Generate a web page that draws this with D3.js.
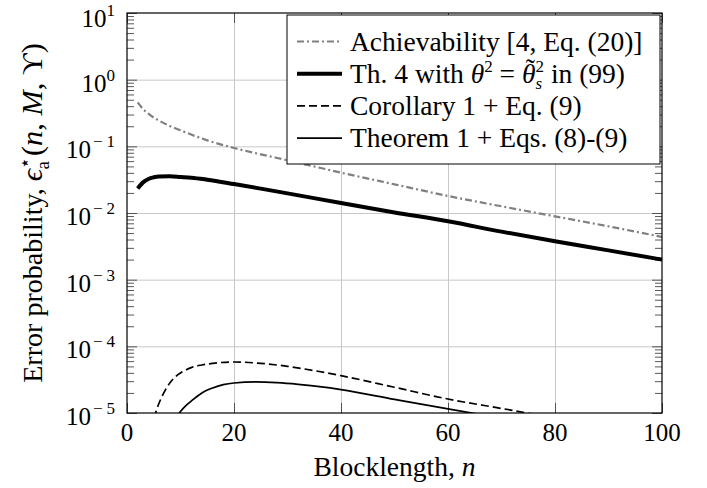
<!DOCTYPE html>
<html>
<head>
<meta charset="utf-8">
<script src="https://cdn.jsdelivr.net/npm/d3@7"></script>
<style>
  html, body { margin: 0; padding: 0; background: #fff; }
  svg { display: block; }
  text { font-family: "Liberation Serif", "Times New Roman", serif; fill: #000; }
</style>
</head>
<body>
<svg id="chart" width="707" height="488"></svg>
<script>
// Blocklength values and error probabilities for each bound
const achN    = [2, 3, 4, 5, 6, 8, 10, 12, 15, 20, 25, 30, 40, 50, 60, 70, 80, 90, 100];
const achVals = [0.457, 0.363, 0.309, 0.269, 0.243, 0.202, 0.174, 0.150, 0.123, 0.0944,
                 0.0759, 0.0617, 0.0403, 0.0269, 0.0180, 0.0126, 0.00891, 0.00631, 0.00437];

const th4N    = [2, 3, 4, 5, 6, 8, 10, 12, 15, 20, 25, 30, 40, 50, 60, 70, 80, 90, 100];
const th4Vals = [0.0234, 0.0288, 0.0324, 0.0343, 0.0353, 0.0355, 0.0347, 0.0339, 0.0316, 0.0272,
                 0.0232, 0.0197, 0.0141, 0.0102, 0.00750, 0.00525, 0.00376, 0.00275, 0.00200];

const corN    = [5, 6, 7, 8, 9, 10, 12, 14, 16, 20, 25, 30, 35, 40, 50, 60, 70, 76];
const corVals = [8.3e-6, 1.41e-5, 2.09e-5, 2.82e-5, 3.47e-5, 3.98e-5, 4.79e-5, 5.25e-5, 5.56e-5,
                 5.82e-5, 5.56e-5, 5.01e-5, 4.32e-5, 3.63e-5, 2.43e-5, 1.62e-5, 1.17e-5, 9.6e-6];

const thm1N    = [9, 10, 11, 12, 14, 16, 18, 20, 24, 28, 32, 36, 40, 50, 60, 66];
const thm1Vals = [7.9e-6, 1.05e-5, 1.29e-5, 1.51e-5, 2.0e-5, 2.37e-5, 2.66e-5, 2.82e-5, 2.92e-5,
                  2.85e-5, 2.69e-5, 2.48e-5, 2.24e-5, 1.60e-5, 1.15e-5, 9.5e-6];

const xTicks = [0, 20, 40, 60, 80, 100];
const yExponents = [1, 0, -1, -2, -3, -4, -5];

const svg = d3.select("#chart");
const pL = 127, pR = 662, pT = 13, pB = 413;

const x = d3.scaleLinear().domain([0, 100]).range([pL, pR]);
const y = d3.scaleLog().domain([1e-5, 10]).range([pB, pT]);

const yMajor = yExponents.map(e => Math.pow(10, e));
const yMinor = [];
for (let e = -5; e < 1; e++) for (let k = 2; k <= 9; k++) yMinor.push(k * Math.pow(10, e));

// grid
const grid = svg.append("g");
grid.append("g").attr("transform", `translate(0,${pB})`)
  .call(d3.axisBottom(x).tickValues(xTicks.slice(1, -1)).tickSize(-(pB - pT)).tickFormat(""))
  .call(g => g.select(".domain").remove())
  .call(g => g.selectAll("line").attr("stroke", "#c8c8c8").attr("stroke-width", 1));
grid.append("g").attr("transform", `translate(${pL},0)`)
  .call(d3.axisLeft(y).tickValues(yMajor.slice(1, -1)).tickSize(-(pR - pL)).tickFormat(""))
  .call(g => g.select(".domain").remove())
  .call(g => g.selectAll("line").attr("stroke", "#c8c8c8").attr("stroke-width", 1));

// inward tick marks on all four sides
function ticks(axis, tr) {
  svg.append("g").attr("transform", tr).call(axis)
    .call(g => g.select(".domain").remove())
    .call(g => g.selectAll("line").attr("stroke", "#444").attr("stroke-width", 0.9));
}
ticks(d3.axisBottom(x).tickValues(xTicks).tickSize(-10).tickFormat(""), `translate(0,${pB})`);
ticks(d3.axisTop(x).tickValues(xTicks).tickSize(-10).tickFormat(""), `translate(0,${pT})`);
ticks(d3.axisLeft(y).tickValues(yMajor).tickSize(-10).tickFormat(""), `translate(${pL},0)`);
ticks(d3.axisRight(y).tickValues(yMajor).tickSize(-10).tickFormat(""), `translate(${pR},0)`);
ticks(d3.axisLeft(y).tickValues(yMinor).tickSize(-7).tickFormat(""), `translate(${pL},0)`);
ticks(d3.axisRight(y).tickValues(yMinor).tickSize(-7).tickFormat(""), `translate(${pR},0)`);

// curves
svg.append("clipPath").attr("id", "plotClip")
  .append("rect").attr("x", pL).attr("y", pT).attr("width", pR - pL).attr("height", pB - pT);

const line = d3.line().x(d => x(d[0])).y(d => y(d[1])).curve(d3.curveMonotoneX);
const curves = svg.append("g").attr("clip-path", "url(#plotClip)");
const styles = {
  ach:  { color: "#808080", width: 2.2, dash: "7,3,2,3" },
  th4:  { color: "#000", width: 4, dash: null },
  cor:  { color: "#000", width: 1.7, dash: "8,4" },
  thm1: { color: "#000", width: 1.7, dash: null }
};
function drawCurve(ns, vals, st) {
  curves.append("path")
    .attr("d", line(ns.map((n, i) => [n, vals[i]])))
    .attr("fill", "none").attr("stroke", st.color).attr("stroke-width", st.width)
    .attr("stroke-dasharray", st.dash);
}
drawCurve(achN, achVals, styles.ach);
drawCurve(th4N, th4Vals, styles.th4);
drawCurve(corN, corVals, styles.cor);
drawCurve(thm1N, thm1Vals, styles.thm1);

// frame
svg.append("rect").attr("x", pL).attr("y", pT).attr("width", pR - pL).attr("height", pB - pT)
  .attr("fill", "none").attr("stroke", "#000").attr("stroke-width", 1.2);

// helpers for math-like text
function span(t, str, opts = {}) {
  const s = t.append("tspan").text(str);
  if (opts.italic) s.attr("font-style", "italic");
  if (opts.size) s.attr("font-size", opts.size);
  if (opts.dx) s.attr("dx", opts.dx);
  if (opts.dy) s.attr("dy", opts.dy);
  return s;
}

// tick labels
const tickFs = 25;
xTicks.forEach(t => {
  svg.append("text").attr("x", x(t)).attr("y", pB + 28).attr("text-anchor", "middle")
    .attr("font-size", tickFs).text(t);
});
yExponents.forEach(e => {
  const t = svg.append("text").attr("x", pL - 12)
    .attr("y", Math.max(y(Math.pow(10, e)) + 12, 27))
    .attr("text-anchor", "end").attr("font-size", tickFs);
  span(t, "10");
  if (e < 0) {
    span(t, "\u2212", { size: 17, dy: -11, dx: 2 });
    span(t, String(-e), { size: 17, dx: 4 });
  } else {
    span(t, String(e), { size: 17, dy: -11 });
  }
});

// axis titles
const fs = 27.5;
const xl = svg.append("text").attr("x", (pL + pR) / 2).attr("y", 476)
  .attr("text-anchor", "middle").attr("font-size", fs);
span(xl, "Blocklength, ");
span(xl, "n", { italic: true });

const yCenter = (pT + pB) / 2;
const yl = svg.append("text").attr("transform", `translate(42,${yCenter}) rotate(-90)`)
  .attr("text-anchor", "middle").attr("font-size", 25);
const mathFs = 27;
span(yl, "Error probability, ");
span(yl, "\u03F5", { italic: true, size: mathFs });
const star = span(yl, "\u22C6", { size: 17, dy: -10 });
const starW = star.node().getComputedTextLength();
const subA = span(yl, "a", { size: 17, dx: -starW, dy: 16 });
const subW = subA.node().getComputedTextLength();
span(yl, "(", { size: mathFs, dx: Math.max(0, starW - subW) + 1, dy: -6 });
span(yl, "n", { italic: true, size: mathFs });
span(yl, ", ", { size: mathFs });
span(yl, "M", { italic: true, size: mathFs });
span(yl, ", \u03D2)", { size: mathFs });
// fit the title to the height of the plot frame
const ylScale = 340 / yl.node().getBBox().width;
yl.attr("transform", `translate(42,${yCenter}) rotate(-90) scale(${ylScale})`);

// legend
const lg = svg.append("g");
lg.append("rect").attr("x", 287).attr("y", 15).attr("width", 373).attr("height", 149)
  .attr("fill", "#fff").attr("stroke", "#000").attr("stroke-width", 1);
const legendKeys = ["ach", "th4", "cor", "thm1"];
legendKeys.forEach((k, i) => {
  const st = styles[k];
  const cy = 41.5 + i * 32.2;
  lg.append("line").attr("x1", 297).attr("x2", 342).attr("y1", cy).attr("y2", cy)
    .attr("stroke", st.color).attr("stroke-width", st.width).attr("stroke-dasharray", st.dash);
  const t = lg.append("text").attr("x", 350).attr("y", cy + 9).attr("font-size", fs);
  if (k === "ach") t.text("Achievability [4, Eq. (20)]");
  if (k === "cor") t.text("Corollary 1 + Eq. (9)");
  if (k === "thm1") t.text("Theorem 1 + Eqs. (8)-(9)");
  if (k === "th4") {
    span(t, "Th. 4 with ");
    span(t, "\u03B8", { italic: true });
    span(t, "2", { size: 17, dy: -11 });
    span(t, " = ", { dy: 11 });
    // theta with a tilde accent placed over it
    const th = span(t, "\u03B8", { italic: true });
    const thW = th.node().getComputedTextLength();
    const tl = span(t, "\u02DC", { dy: -5 });
    const tlW = tl.node().getComputedTextLength();
    tl.attr("dx", -(thW + tlW) / 2 + 1.5);
    // stacked superscript 2 and subscript s right after the theta
    const sup = span(t, "2", { size: 17, dx: (thW - tlW) / 2 - 1.5, dy: -6 });
    const supW = sup.node().getComputedTextLength();
    const sub = span(t, "s", { size: 17, italic: true, dx: -supW, dy: 17 });
    const sW = sub.node().getComputedTextLength();
    span(t, " in (99)", { dx: Math.max(0, supW - sW), dy: -6 });
  }
});
</script>
</body>
</html>
